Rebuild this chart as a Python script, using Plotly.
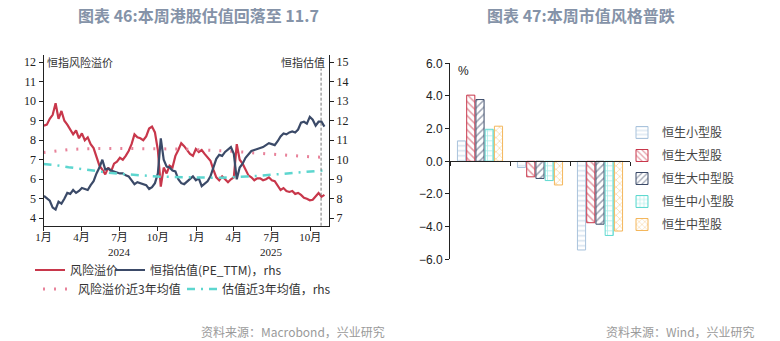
import pandas as pd
import plotly.graph_objects as go

# ---------------- Left chart: Hang Seng risk premium vs PE (TTM) ----------------
# weekly observations, every Tuesday from 2024-01-02
risk_premium = [
    8.75, 8.8, 9.1, 9.3, 9.9, 9.1, 9.5, 9.0, 8.8, 8.55,
    8.3, 8.5, 8.1, 8.35, 8.0, 8.15, 7.8, 7.6, 7.1, 6.7,
    6.5, 6.25, 6.6, 6.4, 6.8, 6.9, 7.1, 7.0, 7.2, 7.45,
    7.8, 8.3, 8.15, 8.1, 8.0, 8.2, 8.6, 8.7, 8.4, 7.5,
    5.62, 6.6, 6.3, 6.7, 6.6, 7.2, 7.5, 7.85, 7.7, 7.5,
    7.3, 7.2, 7.55, 7.4, 7.5, 7.3, 7.15, 6.95, 6.5, 6.1,
    5.95, 6.15, 6.0, 5.85, 6.0, 6.1, 7.8, 7.0, 6.8, 6.5,
    6.2, 6.1, 5.95, 6.05, 6.05, 5.95, 6.0, 6.1, 5.95, 5.9,
    5.7, 5.45, 5.55, 5.4, 5.35, 5.4, 5.25, 5.3, 5.2, 5.05,
    5.0, 4.92, 4.95, 5.1, 5.3, 5.1, 5.2,
]
pe_ttm = [
    8.15, 8.0, 7.9, 7.55, 7.45, 7.85, 7.75, 8.0, 8.3, 8.25,
    8.45, 8.3, 8.4, 8.55, 8.5, 8.45, 8.7, 8.9, 9.3, 9.6,
    10.0, 9.5, 9.55, 9.45, 9.4, 9.35, 9.3, 9.3, 9.2, 9.15,
    8.95, 8.75, 8.85, 8.8, 8.75, 8.7, 8.5, 8.6, 8.8, 9.3,
    11.1, 10.0, 9.65, 9.6, 9.45, 9.4, 9.0, 8.8, 8.75, 8.9,
    9.05, 9.15, 8.95, 9.05, 8.65, 8.8, 8.9, 9.15, 9.6, 10.05,
    10.25, 10.2, 10.4, 10.55, 10.65, 10.3, 9.0, 9.6, 9.8, 10.1,
    10.3, 10.45, 10.5, 10.55, 10.6, 10.65, 10.75, 10.85, 10.8, 10.75,
    10.95, 11.2, 11.35, 11.3, 11.4, 11.45, 11.4, 11.55, 11.9, 11.95,
    11.85, 12.2, 12.05, 11.75, 11.95, 11.95, 11.7,
]
# monthly 3-year averages, from 2024-01
premium_avg_3y = [
    7.37, 7.45, 7.52, 7.56, 7.58, 7.58, 7.58, 7.58, 7.58, 7.58, 7.57, 7.55,
    7.52, 7.5, 7.47, 7.43, 7.38, 7.33, 7.27, 7.22, 7.18, 7.15, 7.13,
]
pe_avg_3y = [
    9.78, 9.72, 9.62, 9.52, 9.42, 9.35, 9.28, 9.22, 9.17, 9.14, 9.12, 9.1,
    9.09, 9.08, 9.08, 9.1, 9.14, 9.18, 9.23, 9.28, 9.34, 9.4, 9.45,
]
week_dates = pd.date_range("2024-01-02", periods=len(risk_premium), freq="7D")
month_dates = pd.date_range("2024-01-01", periods=len(premium_avg_3y), freq="MS")

month_ticks = ["2024-01-01", "2024-04-01", "2024-07-01", "2024-10-01",
               "2025-01-01", "2025-04-01", "2025-07-01", "2025-10-01"]
month_labels = ["1月", "4月", "7月", "10月", "1月", "4月", "7月", "10月"]
year_labels = ["2024", "2025"]
year_positions = ["2024-07-01", "2025-07-01"]
marker_date = "2025-10-27"

# ---------------- Right chart: returns by market-cap style ----------------
periods = ["上周", "本周", "上个月"]
style_names = ["恒生小型股", "恒生大型股", "恒生大中型股", "恒生中小型股", "恒生中型股"]
style_returns = {
    "恒生小型股": [1.25, -0.38, -5.43],
    "恒生大型股": [4.05, -0.95, -3.76],
    "恒生大中型股": [3.78, -1.05, -3.85],
    "恒生中小型股": [1.96, -1.18, -4.54],
    "恒生中型股": [2.15, -1.45, -4.27],
}
style_colors = ["#a9c3dc", "#c8374b", "#3b4a68", "#5fd9d0", "#f4b75c"]
style_patterns = ["-", "\\", "/", "+", "x"]

RED = "#c8374b"
NAVY = "#3b4a68"
PINK = "#e8829a"
CYAN = "#5dd6cf"
TITLE_GREY = "#8593a8"
SERIF = "Liberation Serif, Noto Sans CJK SC"
CJK = "Noto Sans CJK SC"

W, H = 780, 341


def px_x(p):
    return p / W


def px_y(p):
    return 1 - p / H


fig = go.Figure()

# each left-chart legend entry sits in its own legend box so it can be placed freely
fig.add_trace(go.Scatter(
    x=week_dates, y=risk_premium, name="风险溢价", mode="lines",
    line=dict(color=RED, width=2.2), xaxis="x", yaxis="y", legend="legend"))
fig.add_trace(go.Scatter(
    x=week_dates, y=pe_ttm, name="恒指估值(PE_TTM)，rhs", mode="lines",
    line=dict(color=NAVY, width=2.2), xaxis="x", yaxis="y2", legend="legend2"))
fig.add_trace(go.Scatter(
    x=month_dates, y=premium_avg_3y, name="风险溢价近3年均值", mode="lines",
    line=dict(color=PINK, width=3, dash="2px,9px"), xaxis="x", yaxis="y", legend="legend3"))
fig.add_trace(go.Scatter(
    x=month_dates, y=pe_avg_3y, name="估值近3年均值，rhs", mode="lines",
    line=dict(color=CYAN, width=2.5, dash="8px,6px,2px,6px"), xaxis="x", yaxis="y2", legend="legend4"))

for i, name in enumerate(style_names):
    fig.add_trace(go.Bar(
        x=periods, y=style_returns[name], name=name,
        xaxis="x3", yaxis="y3", legend="legend5", legendgroup=name,
        marker=dict(color="white",
                    line=dict(color=style_colors[i], width=1),
                    pattern=dict(shape=style_patterns[i], fgcolor=style_colors[i],
                                 bgcolor="white", size=5, solidity=0.3))))

left_dom_x = [px_x(43.5), px_x(329)]
left_dom_y = [px_y(225.7), px_y(55)]
bar_dom_x = [px_x(450), px_x(630)]
bar_dom_y = [px_y(259.3), px_y(63.3)]
zero_pos = (bar_dom_y[0] + bar_dom_y[1]) / 2

axis_font = dict(family=SERIF, size=12, color="#222222")
common_axis = dict(automargin=False, showgrid=False, zeroline=False)


def legend_box(x_text, y_center, color="#333"):
    # the entry text starts about 40px right of the legend's left edge
    return dict(orientation="h", x=px_x(x_text - 40), y=px_y(y_center), xanchor="left",
                yanchor="middle", itemwidth=30, bgcolor="rgba(0,0,0,0)",
                borderwidth=0, font=dict(family=CJK, size=12, color=color))


fig.update_layout(
    width=W, height=H,
    margin=dict(l=0, r=0, t=0, b=0, autoexpand=False),
    paper_bgcolor="white", plot_bgcolor="rgba(0,0,0,0)",
    showlegend=True,
    barmode="group", bargap=0.23, bargroupgap=0.12,
    xaxis=dict(domain=left_dom_x, anchor="y", type="date",
               range=["2024-01-01", "2025-11-15"],
               tickvals=month_ticks, ticktext=month_labels,
               ticks="outside", ticklen=4, tickcolor="#222", ticklabelstandoff=-3,
               showline=True, linecolor="#222", linewidth=1,
               tickfont=dict(family=SERIF, size=11, color="#222"), **common_axis),
    yaxis=dict(domain=left_dom_y, anchor="x", range=[3.62, 12.37],
               tickvals=list(range(4, 13)), ticks="outside", ticklen=4, tickcolor="#222",
               showline=True, linecolor="#222", linewidth=1,
               tickfont=axis_font, **common_axis),
    yaxis2=dict(overlaying="y", side="right", anchor="x", range=[6.62, 15.37],
                tickvals=list(range(7, 16)), ticks="outside", ticklen=4, tickcolor="#222",
                showline=True, linecolor="#222", linewidth=1,
                tickfont=axis_font, **common_axis),
    xaxis3=dict(domain=bar_dom_x, anchor="free", position=zero_pos, type="category",
                tickson="boundaries", ticks="outside", ticklen=4, tickcolor="#222",
                showticklabels=False, showline=True, linecolor="#222", linewidth=1,
                **common_axis),
    xaxis4=dict(domain=bar_dom_x, anchor="free", position=px_y(272), overlaying="x3",
                range=[-0.5, 2.5], tickvals=[0, 1, 2], ticktext=periods,
                showline=False, ticks="",
                tickfont=dict(family=CJK, size=12, color="#222"), **common_axis),
    yaxis3=dict(domain=bar_dom_y, anchor="x3", range=[-6, 6], dtick=2, tickformat=".1f",
                ticks="outside", ticklen=4, tickcolor="#222",
                showline=True, linecolor="#222", linewidth=1,
                tickfont=dict(family="Liberation Sans", size=12, color="#222"),
                **common_axis),
    legend=legend_box(70, 270),
    legend2=legend_box(150, 270),
    legend3=legend_box(78, 289),
    legend4=legend_box(222, 289),
    legend5=dict(orientation="v", x=px_x(622), y=px_y(118), xanchor="left", yanchor="top",
                 tracegroupgap=4, itemwidth=30, borderwidth=0,
                 font=dict(family=CJK, size=12, color="#444"), bgcolor="rgba(0,0,0,0)"),
)

annotations = [
    dict(text="<b>图表 46:本周港股估值回落至 11.7</b>", x=px_x(198), y=px_y(15),
         font=dict(family=CJK, size=16, color=TITLE_GREY)),
    dict(text="<b>图表 47:本周市值风格普跌</b>", x=px_x(581), y=px_y(15),
         font=dict(family=CJK, size=16, color=TITLE_GREY)),
    dict(text="资料来源：Macrobond，兴业研究", x=px_x(387), y=px_y(331), xanchor="right",
         font=dict(family=CJK, size=12, color="#9a9a9a")),
    dict(text="资料来源：Wind，兴业研究", x=px_x(757), y=px_y(331), xanchor="right",
         font=dict(family=CJK, size=12, color="#9a9a9a")),
    dict(text="恒指风险溢价", x=px_x(45), y=px_y(62), xanchor="left",
         font=dict(family=CJK, size=11, color="#333")),
    dict(text="恒指估值", x=px_x(327), y=px_y(62), xanchor="right",
         font=dict(family=CJK, size=11, color="#333")),
    dict(text="%", x=px_x(463), y=px_y(71),
         font=dict(family="Liberation Sans", size=12, color="#222")),
]
for lbl, pos in zip(year_labels, year_positions):
    annotations.append(dict(text=lbl, x=pos, xref="x", y=px_y(252), yref="paper",
                            font=dict(family=SERIF, size=11, color="#222")))
for a in annotations:
    a.setdefault("xref", "paper")
    a.setdefault("yref", "paper")
    a.setdefault("xanchor", "center")
    a.setdefault("yanchor", "middle")
    a.setdefault("showarrow", False)
fig.update_layout(annotations=annotations)

fig.add_shape(type="line", xref="x", yref="y domain", x0=marker_date, x1=marker_date,
              y0=0, y1=0.92, line=dict(color="#777", width=1, dash="3px,2px"))

fig.write_html("out.html")
